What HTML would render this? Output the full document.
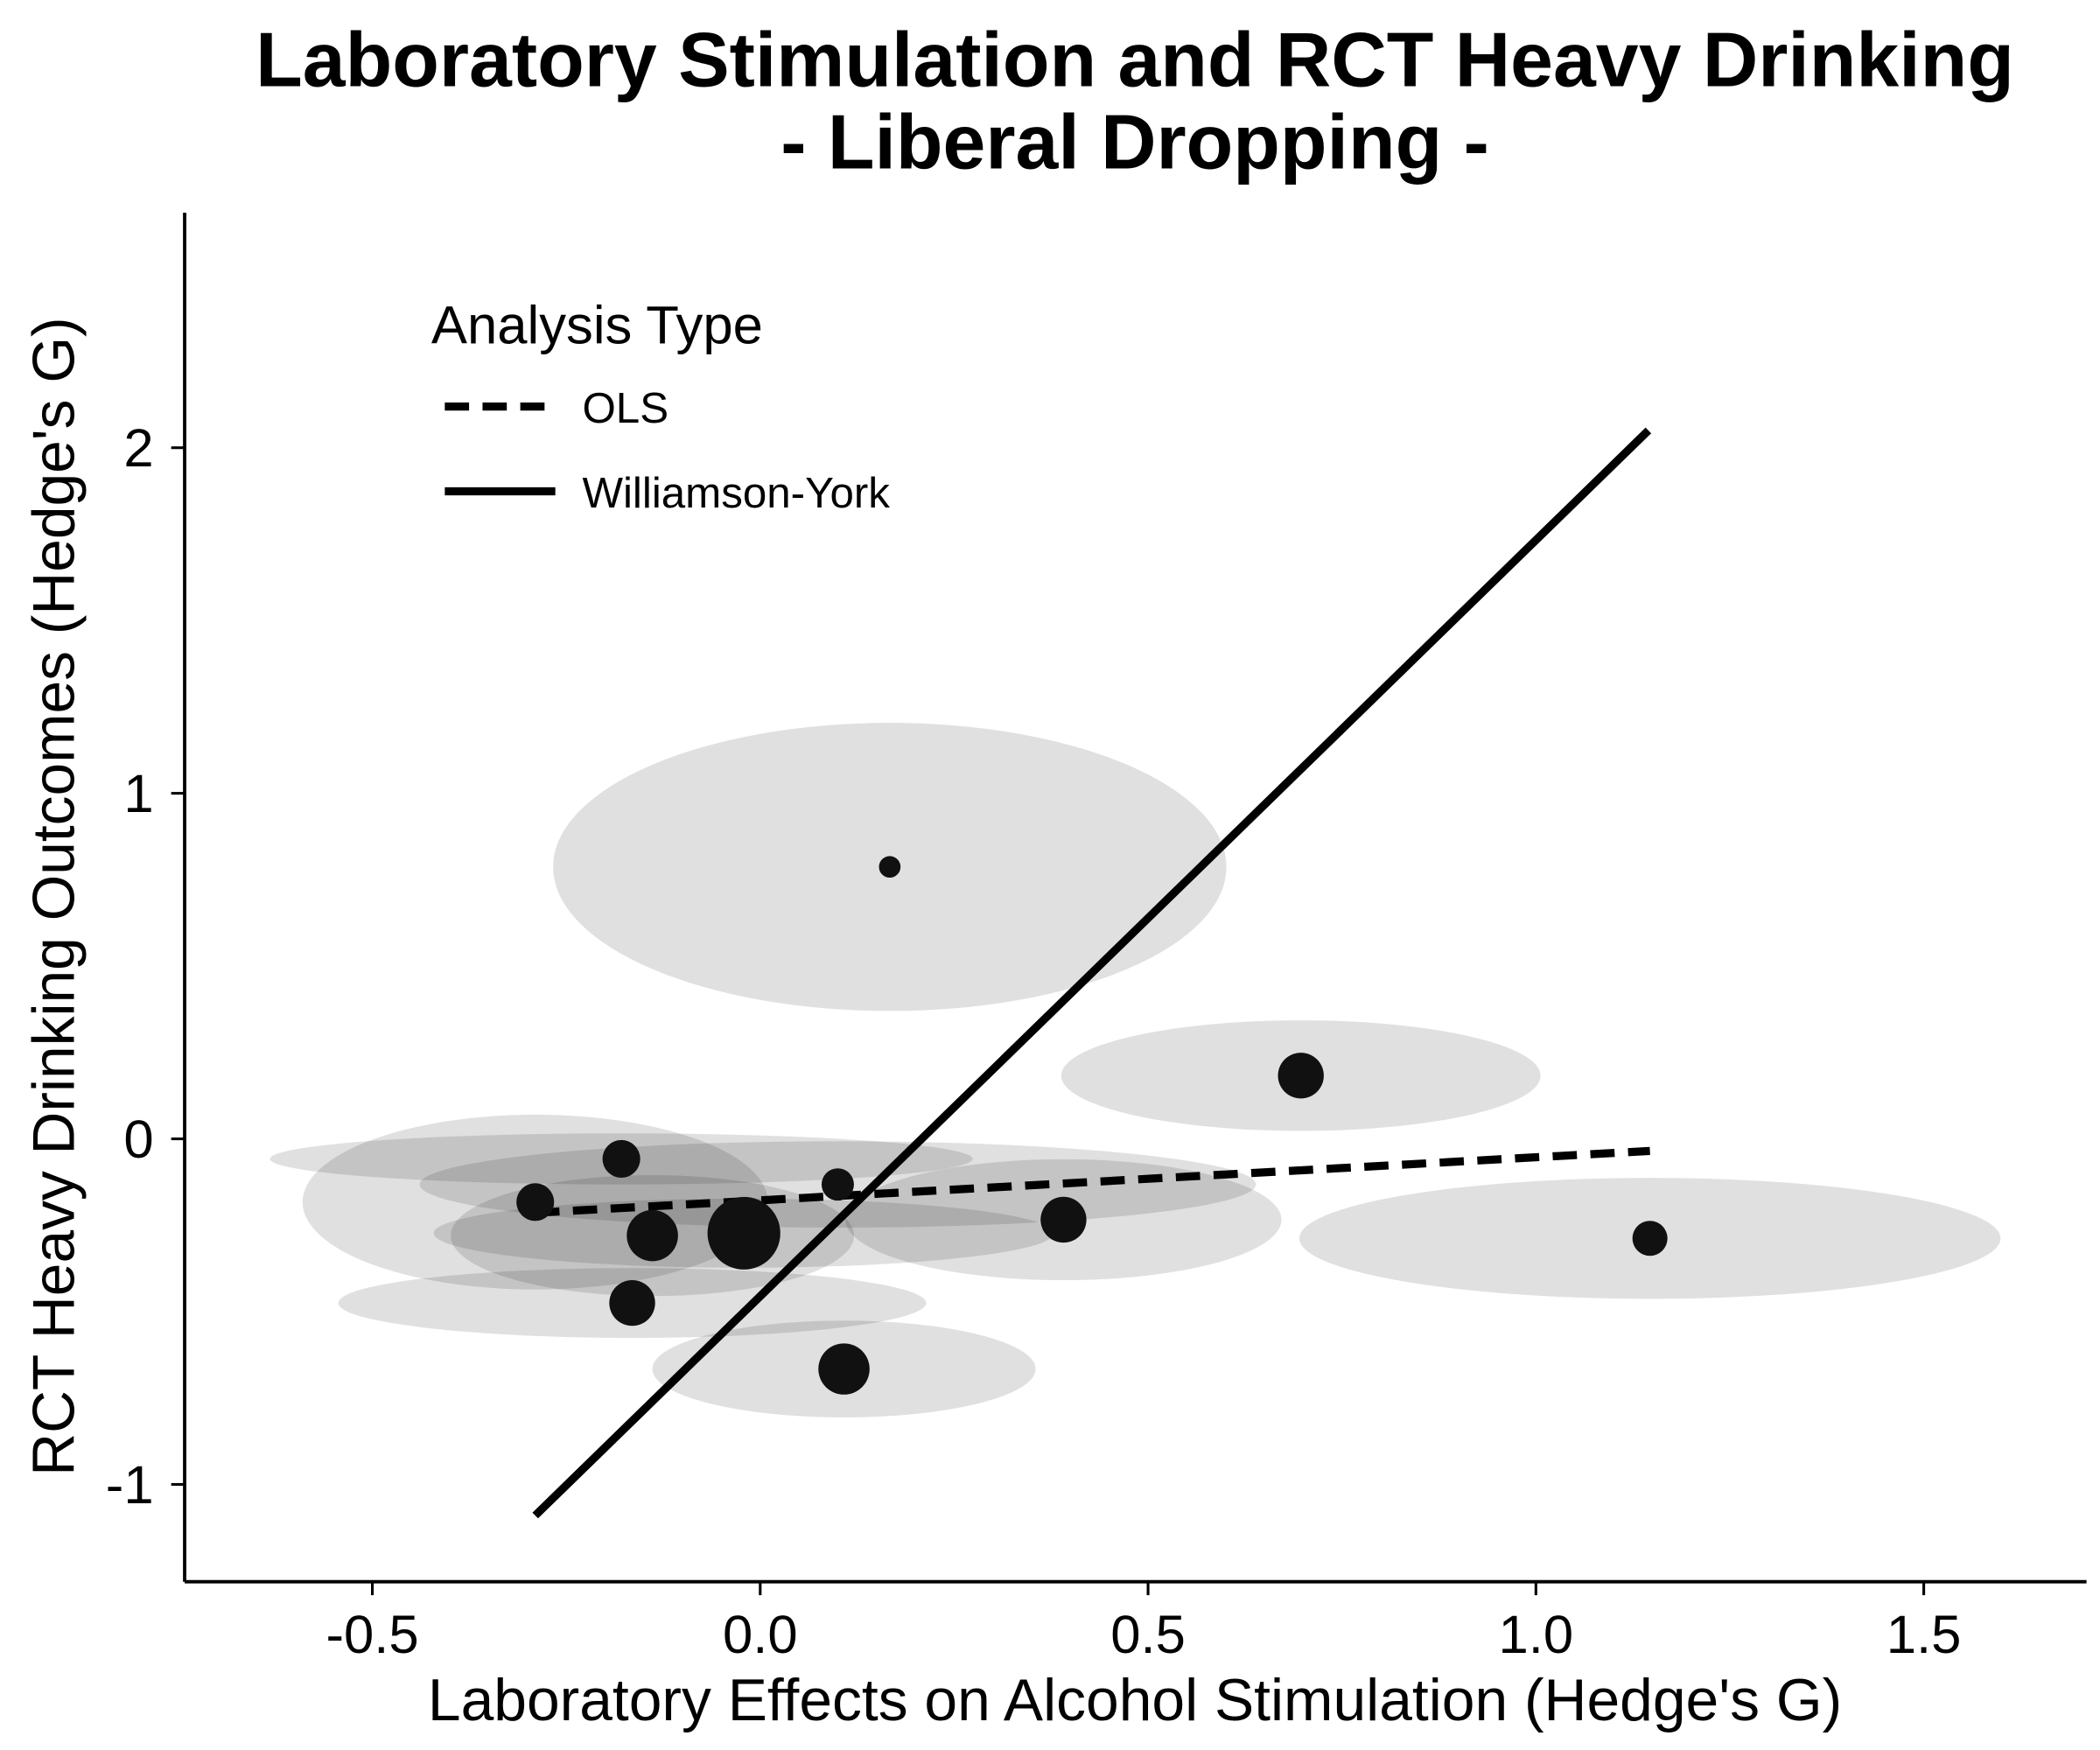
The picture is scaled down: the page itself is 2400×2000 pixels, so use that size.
<!DOCTYPE html>
<html><head><meta charset="utf-8"><style>html,body{margin:0;padding:0;background:#fff}svg{display:block}text{font-family:"Liberation Sans",sans-serif}</style></head>
<body>
<svg id="chart" width="2400" height="2000" viewBox="0 0 1558 1300" preserveAspectRatio="none" xmlns="http://www.w3.org/2000/svg">
<rect width="1558" height="1300" fill="#fff"/>
<text x="842" y="64" text-anchor="middle" font-size="57" font-weight="bold">Laboratory Stimulation and RCT Heavy Drinking</text>
<text x="842" y="125" text-anchor="middle" font-size="57" font-weight="bold">- Liberal Dropping -</text>
<g id="ellipses"></g>
<g id="lines"></g>
<g id="points"></g>
<g id="axes"></g>
<text x="842" y="1278" text-anchor="middle" font-size="44">Laboratory Effects on Alcohol Stimulation (Hedge's G)</text>
<text transform="translate(55,666) rotate(-90)" text-anchor="middle" font-size="44">RCT Heavy Drinking Outcomes (Hedge's G)</text>
<g>
<text x="320" y="255" font-size="40">Analysis Type</text>
<line x1="330" y1="302" x2="412" y2="302" stroke="#000" stroke-width="6" stroke-dasharray="18,10"/>
<text x="432" y="314" font-size="32">OLS</text>
<line x1="330" y1="365" x2="412" y2="365" stroke="#000" stroke-width="6"/>
<text x="432" y="377" font-size="32">Williamson-York</text>
</g>
</svg>
<script>
const ptX=[-0.29,-0.179,-0.139,-0.021,-0.165,0.10,0.167,0.108,0.391,0.697,1.147];
const ptY=[-0.183,-0.058,-0.28,-0.273,-0.475,-0.132,0.787,-0.666,-0.234,0.183,-0.288];
const ptSize=[14,14,19,27,17,12,8,19,17,17,13];
const errX=[0.30,0.453,0.26,0.40,0.379,0.539,0.434,0.247,0.281,0.309,0.452];
const errY=[0.253,0.074,0.175,0.10,0.101,0.125,0.417,0.14,0.175,0.16,0.175];
const xTicks=[-0.5,0.0,0.5,1.0,1.5];
const xTickLabels=["-0.5","0.0","0.5","1.0","1.5"];
const yTicks=[-1,0,1,2];
const yTickLabels=["-1","0","1","2"];
const olsX=[-0.29,1.147];
const olsY=[-0.214,-0.035];
const wyX=[-0.29,1.145];
const wyY=[-1.09,2.05];
const NS="http://www.w3.org/2000/svg";
const sx=v=>564+v*575.5, sy=v=>846-v*256.7;
function mk(t,a,p){const e=document.createElementNS(NS,t);for(const k in a)e.setAttribute(k,a[k]);p.appendChild(e);return e;}
const gE=document.getElementById('ellipses'),gP=document.getElementById('points'),gL=document.getElementById('lines'),gA=document.getElementById('axes');
for(let i=0;i<ptX.length;i++){
 const el=mk('ellipse',{cx:sx(ptX[i]),cy:sy(ptY[i]),rx:errX[i]*575.5,ry:errY[i]*256.7,fill:'#000','fill-opacity':0.12},gE);
 
 
}
for(let i=0;i<ptX.length;i++){
 const c=mk('circle',{cx:sx(ptX[i]),cy:sy(ptY[i]),r:ptSize[i],fill:'#111'},gP);
 
 
}
const ols=mk('line',{x1:sx(olsX[0]),y1:sy(olsY[0]),x2:sx(olsX[1]),y2:sy(olsY[1]),stroke:'#000','stroke-width':6,'stroke-dasharray':'18,10'},gL);


const wy=mk('line',{x1:sx(wyX[0]),y1:sy(wyY[0]),x2:sx(wyX[1]),y2:sy(wyY[1]),stroke:'#000','stroke-width':6},gL);


const xa=mk('line',{x1:137,y1:1175,x2:1548,y2:1175,stroke:'#000','stroke-width':2.5},gA);


const ya=mk('line',{x1:137,y1:158,x2:137,y2:1175,stroke:'#000','stroke-width':2.5},gA);


xTicks.forEach((v,i)=>{
 const t=mk('line',{x1:sx(v),y1:1175,x2:sx(v),y2:1185,stroke:'#000','stroke-width':2},gA);
 
 
 const l=mk('text',{x:sx(v),y:1228,'text-anchor':'middle','font-size':40},gA);
 
 
 l.textContent=xTickLabels[i];
});
yTicks.forEach((v,i)=>{
 const t=mk('line',{x1:127,y1:sy(v),x2:137,y2:sy(v),stroke:'#000','stroke-width':2},gA);
 
 
 const l=mk('text',{x:114,y:sy(v)+14,'text-anchor':'end','font-size':40},gA);
 
 
 l.textContent=yTickLabels[i];
});
</script>
</body></html>
